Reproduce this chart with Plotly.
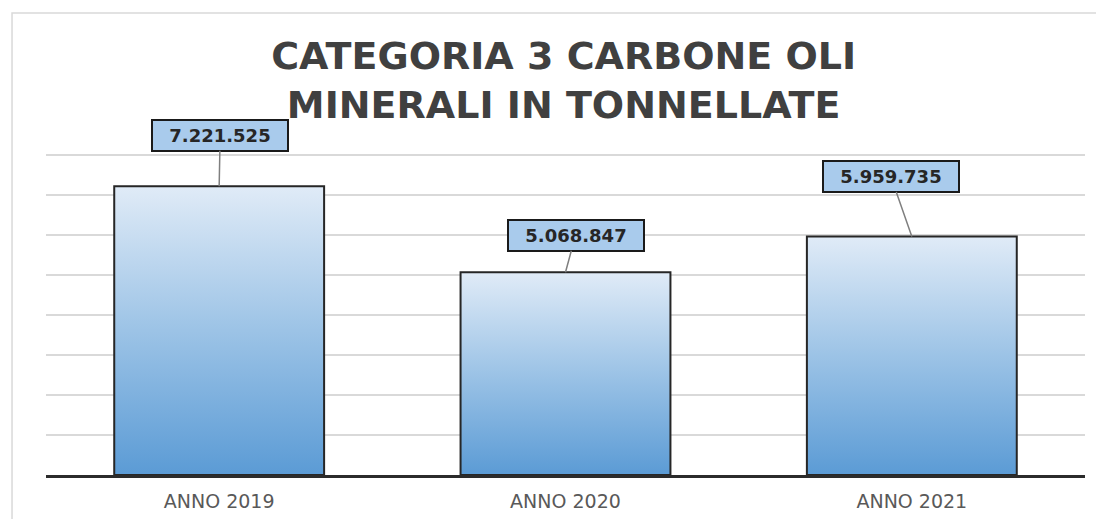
import plotly.graph_objects as go

years = ["ANNO 2019", "ANNO 2020", "ANNO 2021"]
tonnes = [7221525, 5068847, 5959735]
value_labels = ["7.221.525", "5.068.847", "5.959.735"]

# pixel offsets of the label boxes from the bar tops
label_offsets = [(1, -51), (10, -37), (-21, -60)]

half_w = 0.303
bar_scale = [[0, "#5b9bd5"], [0.5, "#9cc3e6"], [1, "#e0ebf7"]]

fig = go.Figure()

for i, (year, v) in enumerate(zip(years, tonnes)):
    fig.add_trace(
        go.Scatter(
            x=[i - half_w, i - half_w, i + half_w, i + half_w, i - half_w],
            y=[0, v, v, 0, 0],
            mode="lines",
            fill="toself",
            fillgradient=dict(type="vertical", colorscale=bar_scale, start=0, stop=v),
            line=dict(color="#262626", width=2),
            name=year,
            hoverinfo="skip",
            showlegend=False,
        )
    )

for i, (v, txt) in enumerate(zip(tonnes, value_labels)):
    ax, ay = label_offsets[i]
    fig.add_annotation(
        x=i, y=v, text="<b>" + txt + "</b>",
        showarrow=True, arrowhead=0, arrowwidth=1.5, arrowcolor="#7f7f7f",
        ax=ax, ay=ay,
        font=dict(family="DejaVu Sans", size=18, color="#262626"),
        bgcolor="#a9cbec", bordercolor="#1a1a1a", borderwidth=2,
        width=132, height=27, borderpad=1,
    )

# outer chart frame (cropped at right and bottom in the reference)
fig.add_shape(
    type="rect", xref="paper", yref="paper",
    x0=-0.0327, x1=1.2, y0=-0.6, y1=1.435,
    line=dict(color="#d9d9d9", width=1.5), layer="below",
)

fig.update_layout(
    width=1096, height=511,
    margin=dict(l=38, r=19, t=145, b=44),
    paper_bgcolor="white", plot_bgcolor="white",
    title=dict(
        text="<b>CATEGORIA 3 CARBONE OLI<br>MINERALI IN TONNELLATE</b>",
        x=0.507, xanchor="center", y=0.881, yanchor="middle",
        font=dict(family="DejaVu Sans", size=38, color="#404040"),
    ),
    xaxis=dict(
        range=[-0.5, 2.5], tickvals=[0, 1, 2], ticktext=years,
        showgrid=False, zeroline=False, automargin=False,
        showline=True, linecolor="#2b2b2b", linewidth=3,
        ticks="", ticklabelstandoff=7,
        tickfont=dict(family="DejaVu Sans", size=19, color="#595959"),
    ),
    yaxis=dict(
        range=[0, 8050000], tickvals=[1e6 * k for k in range(1, 9)],
        showticklabels=False, automargin=False,
        gridcolor="#d9d9d9", gridwidth=1.5, zeroline=False,
    ),
)

fig.write_html("out.html")
